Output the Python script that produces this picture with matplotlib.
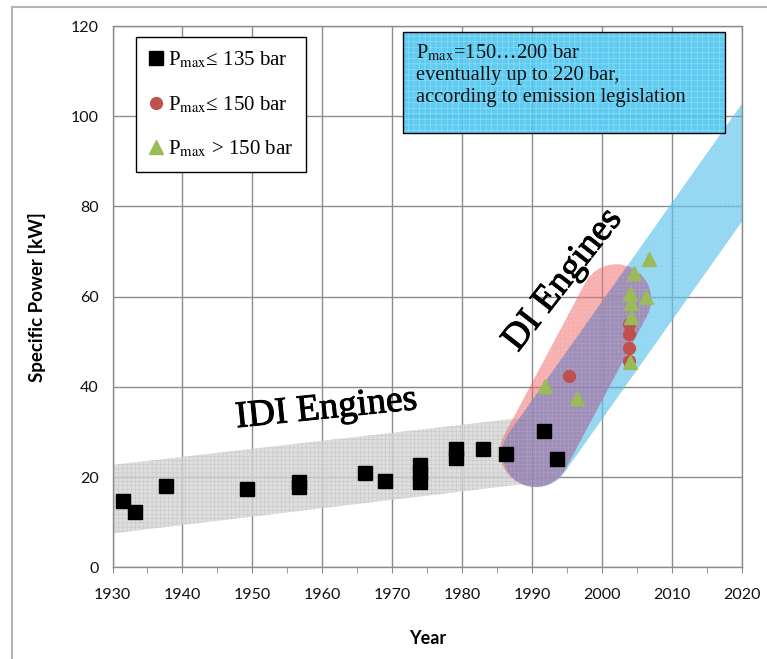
import matplotlib
matplotlib.use("Agg")
import matplotlib.pyplot as plt
import matplotlib.patheffects as pe
import numpy as np
from matplotlib.lines import Line2D
from matplotlib.patches import Polygon, Rectangle

plt.rcParams['mathtext.fontset'] = 'stix'
plt.rcParams['hatch.linewidth'] = 0.4

SERIF = ['Liberation Serif', 'DejaVu Serif']
SANS = ['Lato', 'DejaVu Sans']

# data
sq_year = [1931.5, 1933.2, 1937.6, 1949.2, 1956.7, 1956.7, 1966.1, 1969.0,
           1973.9, 1973.9, 1973.9, 1979.1, 1979.1, 1983.0, 1986.3, 1991.7, 1993.5]
sq_power = [14.7, 12.3, 18.0, 17.4, 17.8, 19.0, 20.8, 19.2,
            18.8, 20.8, 22.6, 24.2, 26.2, 26.2, 25.1, 30.2, 24.1]

ci_year = [1995.3, 2003.8, 2003.8, 2003.8, 2003.8]
ci_power = [42.3, 53.9, 51.7, 48.7, 45.7]

tr_year = [1991.9, 1996.4, 2004.5, 2006.7, 2004.0, 2006.3, 2004.2, 2004.2, 2004.0]
tr_power = [40.3, 37.5, 65.3, 68.3, 60.8, 59.9, 58.5, 55.5, 45.5]

# trend bands
idi_band_year = [1930, 1989]
idi_band_low = [7.5, 18.5]
idi_band_high = [22.7, 33.2]

di_red_axis = [(1990.4, 25.6), (2002.0, 59.4)]
di_blue_axis = [(1990.6, 25.3), (2032.0, 116.0)]

x_ticks = list(range(1930, 2021, 10))
y_ticks = list(range(0, 121, 20))


def stadium_pts(ax, p0, p1, r, n=60):
    # rounded strip between two points, radius r in pixels
    trans = ax.transData
    a, b = trans.transform([p0, p1])
    ang = np.arctan2(b[1] - a[1], b[0] - a[0])
    t1 = np.linspace(ang - np.pi / 2, ang + np.pi / 2, n)
    t0 = np.linspace(ang + np.pi / 2, ang + 3 * np.pi / 2, n)
    pts = np.vstack([b + r * np.c_[np.cos(t1), np.sin(t1)],
                     a + r * np.c_[np.cos(t0), np.sin(t0)]])
    return trans.inverted().transform(pts)


fig = plt.figure(figsize=(7.67, 6.59), dpi=100)
ax = fig.add_axes([0.1467, 0.1392, 0.8207, 0.8213])
ax.set_xlim(1930, 2020)
ax.set_ylim(0, 120)

# outer frame
fig.add_artist(Line2D([12 / 767, 12 / 767], [0, 1 - 7 / 659], color='#b4b4b4', lw=1.5))
fig.add_artist(Line2D([12 / 767, 1], [1 - 7 / 659, 1 - 7 / 659], color='#b4b4b4', lw=1.5))

ax.set_xticks(x_ticks)
ax.set_xticks(range(1935, 2020, 10), minor=True)
ax.set_yticks(y_ticks)
ax.grid(True, color='#8c8c8c', lw=1.0)
ax.set_axisbelow(True)
for s in ax.spines.values():
    s.set_color('#8c8c8c')
    s.set_linewidth(1.0)
ax.tick_params(axis='x', which='both', length=4, color='#8c8c8c', pad=11)
ax.tick_params(axis='y', length=0, pad=10)
for lab in ax.get_xticklabels() + ax.get_yticklabels():
    lab.set_family(SANS)
    lab.set_fontsize(11.5)
    lab.set_color('#111111')

ax.set_xlabel('Year', family=SANS, fontsize=13, fontweight='bold')
ax.set_ylabel('Specific Power [kW]', family=SANS, fontsize=13.5, fontweight='bold')
ax.xaxis.set_label_coords(0.5, -0.116)
ax.yaxis.set_label_coords(-0.106, 0.5)

# bands
ax.fill_between(idi_band_year, idi_band_low, idi_band_high, facecolor='#d6d6d6',
                edgecolor='#c2c2c2', hatch='++++', lw=0, alpha=0.8, zorder=1)
blue_pts = stadium_pts(ax, di_blue_axis[0], di_blue_axis[1], 34)
red_pts = stadium_pts(ax, di_red_axis[0], di_red_axis[1], 35)
blue = Polygon(blue_pts, closed=True, facecolor='#3fb6e8', edgecolor='#9fdcf6',
               hatch='++++', lw=0, alpha=0.55, zorder=2)
ax.add_patch(blue)
ax.add_patch(Polygon(red_pts, closed=True, facecolor='#f05a5a', edgecolor='#f7a0a0',
                     hatch='++++', lw=0, alpha=0.45, zorder=3))
overlap = Polygon(red_pts, closed=True, facecolor='#7f82c2', edgecolor='#b0acd8',
                  hatch='++++', lw=0, alpha=0.5, zorder=4)
ax.add_patch(overlap)
overlap.set_clip_path(blue)

# data points
ax.plot(sq_year, sq_power, 's', color='black', ms=9.5, ls='none', zorder=5,
        label=r'P$_{\rm max}$≤ 135 bar')
ax.plot(ci_year, ci_power, 'o', color='#c0504d', ms=8.5, ls='none', zorder=5,
        label=r'P$_{\rm max}$≤ 150 bar')
ax.plot(tr_year, tr_power, '^', color='#9bbb59', ms=10.5, ls='none', zorder=5,
        label=r'P$_{\rm max}$ > 150 bar')

leg = ax.legend(loc='upper left', bbox_to_anchor=(0.0373, 0.9797), frameon=True,
                fancybox=False, edgecolor='black', framealpha=1,
                prop={'family': SERIF, 'size': 15}, labelspacing=1.15,
                handlelength=0.7, handletextpad=0.25, borderpad=0.6,
                borderaxespad=0)
leg.get_frame().set_linewidth(1.0)
leg.set_zorder(8)

# pressure info box
ax.add_patch(Rectangle((1971.5, 96.2), 46.1, 22.4, facecolor='#4cc6f0',
                       edgecolor='#9fe0f7', hatch='+++', lw=0, alpha=0.9, zorder=6))
ax.add_patch(Rectangle((1971.5, 96.2), 46.1, 22.4, facecolor='none',
                       edgecolor='black', lw=1.0, zorder=6))
ax.text(1973.4, 116.4, 'P$_{\\rm max}$=150…200 bar\neventually up to 220 bar,\naccording to emission legislation',
        family=SERIF, fontsize=14.8, va='top', ha='left', linespacing=1.22, zorder=7,
        color='#111111')

thick = [pe.withStroke(linewidth=0.7, foreground='black')]
ax.text(1960.6, 35.1, 'IDI Engines', family=SERIF, fontsize=27, rotation=5.8,
        rotation_mode='anchor', ha='center', va='center', zorder=7, path_effects=thick)
ax.text(1994.4, 63.7, 'DI Engines', family=SERIF, fontsize=27, rotation=52,
        rotation_mode='anchor', ha='center', va='center', zorder=7, path_effects=thick)

fig.savefig('out.png', dpi=100, facecolor='white')
